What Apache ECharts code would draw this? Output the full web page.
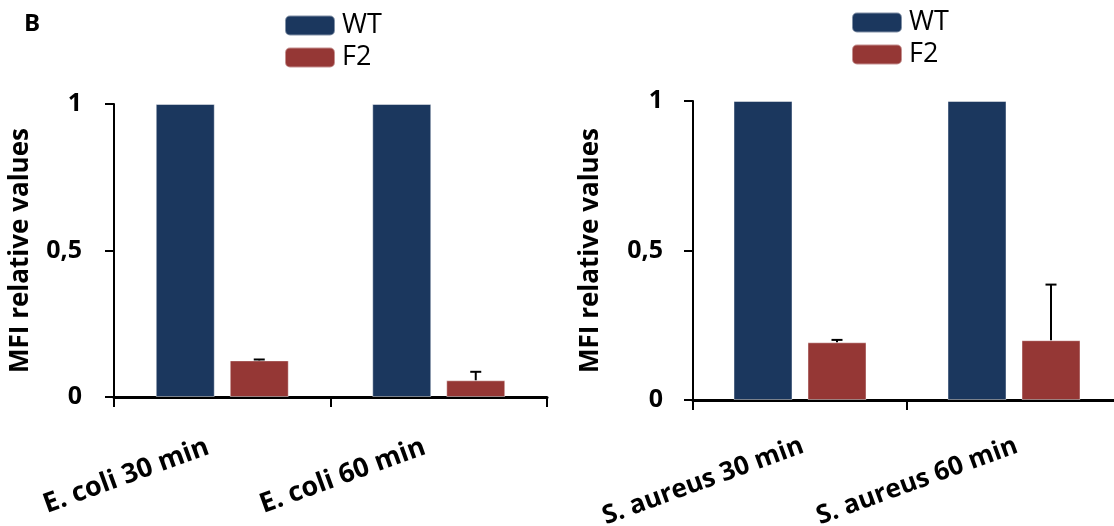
<!DOCTYPE html>
<html>
<head>
<meta charset="utf-8">
<script src="https://cdn.jsdelivr.net/npm/echarts@6/dist/echarts.min.js"></script>
<style>
  html, body { margin: 0; padding: 0; background: #fff; }
  #chart { width: 1114px; height: 526px; }
</style>
</head>
<body>
<div id="chart"></div>
<script>
// Flow cytometry MFI, F2 relative to WT (WT normalised to 1)
const seriesNames = ['WT', 'F2'];
const ecoliCategories = ['E. coli 30 min', 'E. coli 60 min'];
const aureusCategories = ['S. aureus 30 min', 'S. aureus 60 min'];

const ecoliWT = [1, 1];
const ecoliF2 = [0.125, 0.057];
const ecoliF2Err = [0.003, 0.029];

const aureusWT = [1, 1];
const aureusF2 = [0.193, 0.2];
const aureusF2Err = [0.008, 0.186];

const yTicks = [0, 0.5, 1];

const FONT = '"Open Sans", "DejaVu Sans", sans-serif';
const NAVY = '#1B375E';
const RED = '#953735';
const BAR_W = 59;
const BAR_GAP = 15;

function yAxisFor(gridIndex, labelMargin, nameGap) {
  return {
    type: 'value', gridIndex, min: yTicks[0], max: yTicks[yTicks.length - 1],
    interval: yTicks[1] - yTicks[0],
    name: 'MFI relative values', nameLocation: 'middle', nameGap,
    nameTextStyle: { fontFamily: FONT, fontWeight: 'bold', fontSize: 26, color: '#000' },
    axisLine: { show: true, lineStyle: { color: '#000', width: 2 } },
    axisTick: { show: true, length: 9, lineStyle: { color: '#000', width: 2 } },
    splitLine: { show: false },
    axisLabel: {
      margin: labelMargin, color: '#000', fontFamily: FONT, fontWeight: 'bold', fontSize: 25,
      formatter: v => String(v).replace('.', ',')
    }
  };
}

function xAxisFor(gridIndex, categories, margin, padding, fontSize) {
  return {
    type: 'category', gridIndex, data: categories,
    axisLine: { show: true, lineStyle: { color: '#000', width: 3 } },
    axisTick: { show: true, length: 10, lineStyle: { color: '#000', width: 2 } },
    axisLabel: {
      rotate: 20, margin, interval: 0, padding,
      color: '#000', fontFamily: FONT, fontWeight: 'bold', fontSize
    }
  };
}

function barSeries(name, data, axisIndex, color) {
  return {
    name, type: 'bar', data, xAxisIndex: axisIndex, yAxisIndex: axisIndex,
    barWidth: BAR_W, barGap: (BAR_GAP / BAR_W * 100) + '%',
    itemStyle: { color, borderColor: 'rgba(255,255,255,0.45)', borderWidth: 1 },
    emphasis: { disabled: true }
  };
}

// Upper error bar with a cap, centred on the F2 bar of each category
function errorSeries(values, errors, axisIndex) {
  return {
    type: 'custom', xAxisIndex: axisIndex, yAxisIndex: axisIndex, silent: true, z: 5,
    data: values.map((v, i) => [i, v, v + errors[i]]),
    renderItem(params, api) {
      const base = api.coord([api.value(0), api.value(1)]);
      const top = api.coord([api.value(0), api.value(2)]);
      const x = base[0] + (BAR_W + BAR_GAP) / 2;
      const cap = 5.5;
      const style = { stroke: '#000', lineWidth: 2 };
      return {
        type: 'group', children: [
          { type: 'line', shape: { x1: x, y1: base[1], x2: x, y2: top[1] }, style },
          { type: 'line', shape: { x1: x - cap, y1: top[1], x2: x + cap, y2: top[1] }, style }
        ]
      };
    }
  };
}

function legendAt(left, top) {
  return {
    data: seriesNames, orient: 'vertical', left, top,
    itemWidth: 50, itemHeight: 20, itemGap: 5, icon: 'roundRect',
    selectedMode: false, padding: 0,
    textStyle: { fontFamily: FONT, fontSize: 27, lineHeight: 20, color: '#000', padding: [0, 0, 0, 2] }
  };
}

const chart = echarts.init(document.getElementById('chart'), null, { renderer: 'canvas' });
chart.setOption({
  animation: false,
  backgroundColor: '#fff',
  title: {
    text: 'B', left: 24, top: 12, padding: 0,
    textStyle: { fontFamily: FONT, fontWeight: 'bold', fontSize: 24, color: '#000' }
  },
  legend: [legendAt(284, 12), legendAt(851, 9)],
  grid: [
    { left: 114, top: 104, width: 433, height: 293, outerBoundsMode: 'none' },
    { left: 693, top: 101, width: 428, height: 299, outerBoundsMode: 'none' }
  ],
  xAxis: [
    xAxisFor(0, ecoliCategories, 44, [0, 15, 0, 0], 27),
    xAxisFor(1, aureusCategories, 46, [0, -3, 0, 0], 26)
  ],
  yAxis: [yAxisFor(0, 32, 80), yAxisFor(1, 30, 89)],
  series: [
    barSeries('WT', ecoliWT, 0, NAVY),
    barSeries('F2', ecoliF2, 0, RED),
    errorSeries(ecoliF2, ecoliF2Err, 0),
    barSeries('WT', aureusWT, 1, NAVY),
    barSeries('F2', aureusF2, 1, RED),
    errorSeries(aureusF2, aureusF2Err, 1)
  ]
});
</script>
</body>
</html>
